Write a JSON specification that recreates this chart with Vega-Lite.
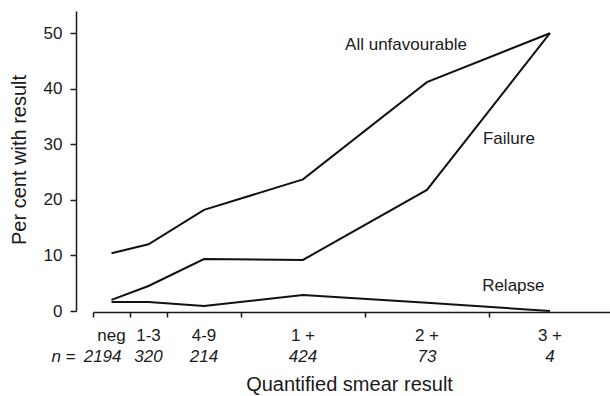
{
  "$schema": "https://vega.github.io/schema/vega-lite/v6.json",
  "width": 518,
  "height": 300,
  "autosize": {"type": "none"},
  "padding": {"left": 93, "top": 11, "right": 0, "bottom": 85},
  "background": "white",
  "config": {
    "view": {"stroke": null},
    "font": "Liberation Sans",
    "axis": {"grid": false, "domainColor": "#1a1a1a", "tickColor": "#1a1a1a", "labelColor": "#1a1a1a", "titleColor": "#1a1a1a", "titleFontWeight": "normal", "domainWidth": 1.5, "tickWidth": 1.5}
  },
  "datasets": {
    "lines": [
      {"series": "All unfavourable", "cat": "neg", "x": 0.5, "pct": 10.4},
      {"series": "All unfavourable", "cat": "1-3", "x": 1.5, "pct": 12.0},
      {"series": "All unfavourable", "cat": "4-9", "x": 3.0, "pct": 18.2},
      {"series": "All unfavourable", "cat": "1 +", "x": 5.675, "pct": 23.7},
      {"series": "All unfavourable", "cat": "2 +", "x": 9.025, "pct": 41.2},
      {"series": "All unfavourable", "cat": "3 +", "x": 12.35, "pct": 50.0},
      {"series": "Failure", "cat": "neg", "x": 0.5, "pct": 2.0},
      {"series": "Failure", "cat": "1-3", "x": 1.5, "pct": 4.5},
      {"series": "Failure", "cat": "4-9", "x": 3.0, "pct": 9.35},
      {"series": "Failure", "cat": "1 +", "x": 5.675, "pct": 9.2},
      {"series": "Failure", "cat": "2 +", "x": 9.025, "pct": 21.8},
      {"series": "Failure", "cat": "3 +", "x": 12.35, "pct": 50.0},
      {"series": "Relapse", "cat": "neg", "x": 0.5, "pct": 1.6},
      {"series": "Relapse", "cat": "1-3", "x": 1.5, "pct": 1.6},
      {"series": "Relapse", "cat": "4-9", "x": 3.0, "pct": 0.9},
      {"series": "Relapse", "cat": "1 +", "x": 5.675, "pct": 2.9},
      {"series": "Relapse", "cat": "2 +", "x": 9.025, "pct": 1.5},
      {"series": "Relapse", "cat": "3 +", "x": 12.35, "pct": 0.0}
    ],
    "cats": [
      {"cat": "neg", "x": 0.5, "n": "2194"},
      {"cat": "1-3", "x": 1.5, "n": "320"},
      {"cat": "4-9", "x": 3.0, "n": "214"},
      {"cat": "1 +", "x": 5.675, "n": "424"},
      {"cat": "2 +", "x": 9.025, "n": "73"},
      {"cat": "3 +", "x": 12.35, "n": "4"}
    ],
    "notes": [
      {"label": "All unfavourable", "x": 8.46, "y": 47},
      {"label": "Failure", "x": 11.24, "y": 30},
      {"label": "Relapse", "x": 11.36, "y": 3.6}
    ]
  },
  "layer": [
    {
      "data": {"name": "lines"},
      "mark": {"type": "line", "color": "#111111", "strokeWidth": 2},
      "encoding": {
        "x": {
          "field": "x", "type": "quantitative",
          "scale": {"domain": [0, 14], "nice": false, "zero": false},
          "axis": {
            "values": [0, 1, 2, 4, 7.35, 10.7],
            "labels": false, "tickSize": 5, "offset": 1,
            "title": "Quantified smear result", "titleFontSize": 20,
            "titleX": 256, "titleY": 78, "titleBaseline": "alphabetic", "titleAlign": "center"
          }
        },
        "y": {
          "field": "pct", "type": "quantitative",
          "scale": {"domain": [0, 54], "nice": false},
          "axis": {
            "values": [0, 10, 20, 30, 40, 50],
            "offset": 17, "tickSize": 6, "labelFontSize": 17, "labelPadding": 8,
            "title": "Per cent with result", "titleFontSize": 20,
            "titleX": -50.5, "titleY": 148.5, "titleBaseline": "alphabetic", "titleAlign": "center"
          }
        },
        "detail": {"field": "series"}
      }
    },
    {
      "data": {"name": "cats"},
      "mark": {"type": "text", "fontSize": 17, "align": "center", "baseline": "alphabetic", "color": "#1a1a1a"},
      "encoding": {
        "x": {"field": "x", "type": "quantitative"},
        "y": {"datum": -5.4, "type": "quantitative"},
        "text": {"field": "cat"}
      }
    },
    {
      "data": {"name": "cats"},
      "transform": [{"filter": "datum.cat !== 'neg'"}],
      "mark": {"type": "text", "fontSize": 17, "fontStyle": "italic", "align": "center", "baseline": "alphabetic", "color": "#1a1a1a"},
      "encoding": {
        "x": {"field": "x", "type": "quantitative"},
        "y": {"datum": -9.2, "type": "quantitative"},
        "text": {"field": "n"}
      }
    },
    {
      "data": {"name": "cats"},
      "transform": [{"filter": "datum.cat === 'neg'"}],
      "mark": {"type": "text", "fontSize": 17, "fontStyle": "italic", "align": "right", "baseline": "alphabetic", "dx": 10, "color": "#1a1a1a"},
      "encoding": {
        "x": {"field": "x", "type": "quantitative"},
        "y": {"datum": -9.2, "type": "quantitative"},
        "text": {"field": "n"}
      }
    },
    {
      "data": {"name": "cats"},
      "transform": [{"filter": "datum.cat === 'neg'"}],
      "mark": {"type": "text", "text": "n =", "fontSize": 17, "fontStyle": "italic", "align": "right", "baseline": "alphabetic", "dx": -36, "color": "#1a1a1a"},
      "encoding": {
        "x": {"field": "x", "type": "quantitative"},
        "y": {"datum": -9.2, "type": "quantitative"}
      }
    },
    {
      "data": {"name": "notes"},
      "mark": {"type": "text", "fontSize": 17, "align": "center", "baseline": "alphabetic", "color": "#1a1a1a"},
      "encoding": {
        "x": {"field": "x", "type": "quantitative"},
        "y": {"field": "y", "type": "quantitative"},
        "text": {"field": "label"}
      }
    }
  ]
}
